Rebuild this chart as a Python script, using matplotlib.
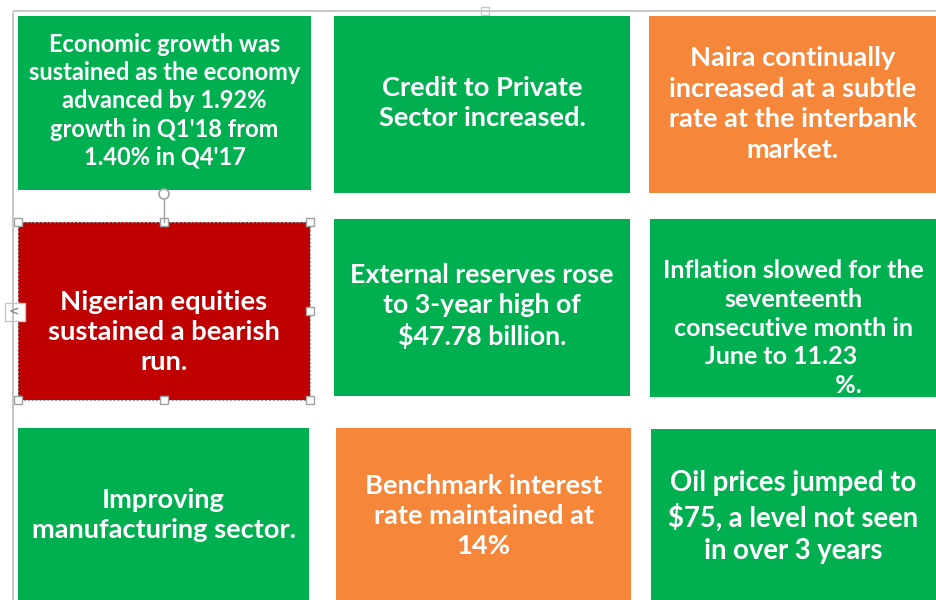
"""Nine coloured summary tiles (economic highlights)"""

import matplotlib

matplotlib.use("Agg")
import matplotlib.pyplot as plt
from matplotlib.patches import Rectangle, Circle

# tile contents, row by row
headlines = [
    ["Economic growth was", "sustained as the economy", "advanced by 1.92%", "growth in Q1'18 from", "1.40% in Q4'17"],
    ["Credit to Private", "Sector increased."],
    ["Naira continually", "increased at a subtle", "rate at the interbank", "market."],
    ["Nigerian equities", "sustained a bearish", "run."],
    ["External reserves rose", "to 3-year high of", "$47.78 billion."],
    ["Inflation slowed for the", "seventeenth", "consecutive month in", "June to 11.23    ",
     "                  %."],
    ["Improving", "manufacturing sector."],
    ["Benchmark interest", "rate maintained at", "14%"],
    ["Oil prices jumped to", "$75, a level not seen", "in over 3 years"],
]
signal = ["good", "good", "neutral", "bad", "good", "good", "good", "neutral", "good"]

palette = {"good": "#00B050", "neutral": "#F5863A", "bad": "#C00000"}

# tile geometry in pixels: x0, y0, x1, y1
tiles = [
    (18, 16, 311, 190), (334, 16, 630, 193), (649, 16, 940, 193),
    (18, 222, 310, 400), (334, 219, 630, 396), (650, 219, 940, 397),
    (18, 428, 309, 604), (336, 428, 631, 604), (651, 429, 940, 604),
]
# vertical text centre, size and line spacing per tile
text_y = [101, 103, 104, 332, 306, 328, 515, 516, 517]
text_size = [17.0, 19.6, 19.6, 19.7, 19.3, 18.0, 19.6, 19.6, 19.8]
line_gap = [1.27, 1.3, 1.34, 1.3, 1.3, 1.3, 1.3, 1.3, 1.3]

fig = plt.figure(figsize=(9.36, 6), dpi=100)
ax = fig.add_axes([0, 0, 1, 1])
ax.set_xlim(0, 936)
ax.set_ylim(600, 0)
ax.axis("off")

# frame lines of the page
ax.plot([14, 936], [11, 11], color="#C8C8C8", linewidth=1.5)
ax.plot([12.5, 12.5], [13, 600], color="#C8C8C8", linewidth=1.5)
ax.add_patch(Rectangle((481, 7), 8, 8, facecolor="white", edgecolor="#C8C8C8", linewidth=1))

for i, (lines, kind) in enumerate(zip(headlines, signal)):
    x0, y0, x1, y1 = tiles[i]
    ax.add_patch(Rectangle((x0, y0), x1 - x0, y1 - y0, facecolor=palette[kind], edgecolor="none"))
    cx = (x0 + min(x1, 936)) / 2
    ax.text(
        cx, text_y[i], "\n".join(lines),
        ha="center", va="center", multialignment="center",
        color="white", fontsize=text_size[i], fontweight="bold",
        family=["Lato", "DejaVu Sans"], linespacing=line_gap[i],
    )

# selection handles on the red tile
x0, y0, x1, y1 = tiles[3]
ax.add_patch(Rectangle((x0, y0), x1 - x0, y1 - y0, facecolor="none",
                       edgecolor="#9A9A9A", linewidth=0.8, linestyle=(0, (2, 1.5))))
xm, ym = (x0 + x1) / 2, (y0 + y1) / 2
ax.plot([xm, xm], [200, y0], color="#A0A0A0", linewidth=1)
ax.add_patch(Circle((xm, 194), 5, facecolor="white", edgecolor="#A0A0A0", linewidth=1.2))
for hx, hy in [(x0, y0), (xm, y0), (x1, y0), (x0, ym), (x1, ym), (x0, y1), (xm, y1), (x1, y1)]:
    ax.add_patch(Rectangle((hx - 4, hy - 4), 8, 8, facecolor="white", edgecolor="#A0A0A0", linewidth=1))
ax.add_patch(Rectangle((5, 303), 20, 18, facecolor="white", edgecolor="#C8C8C8", linewidth=1))
ax.text(14, 312, "<", ha="center", va="center", color="#8A8A8A", fontsize=9, fontweight="bold")

fig.savefig("out.png", dpi=100)
